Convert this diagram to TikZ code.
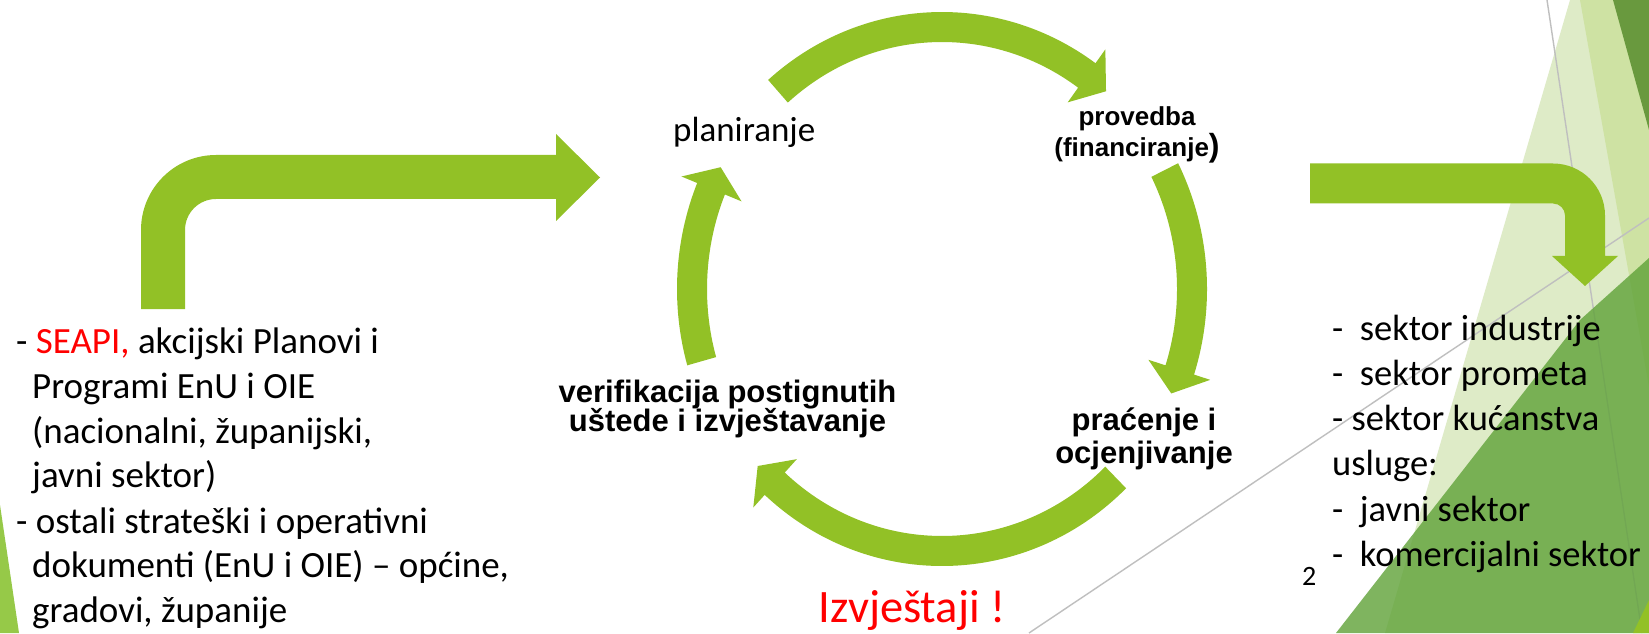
\documentclass[tikz,border=0pt]{standalone}
\usepackage{fontspec}
\setmainfont{Carlito}
\newfontfamily\arialfont{Liberation Sans}
\usetikzlibrary{calc}
\definecolor{arrowgreen}{RGB}{146,193,38}
\definecolor{facetlight}{RGB}{222,235,199}
\definecolor{facetmid}{RGB}{206,226,163}
\definecolor{facetdark}{RGB}{105,153,62}
\definecolor{facetgreen}{RGB}{95,162,56}
\definecolor{facetbright}{RGB}{146,193,38}
\definecolor{wedgegreen}{RGB}{150,201,72}
\definecolor{thinline}{RGB}{191,191,191}
\tikzset{
  bodytext/.style={inner sep=0pt, anchor=base west, font=\fontsize{37}{44}\selectfont},
  righttext/.style={inner sep=0pt, anchor=base west, font=\fontsize{36.5}{44}\selectfont},
  cyclelbl/.style={inner sep=0pt, anchor=base, font=\arialfont\bfseries\fontsize{31}{31}\selectfont},
  smalllbl/.style={inner sep=0pt, anchor=base, font=\arialfont\bfseries\fontsize{26}{26}\selectfont},
  decoline/.style={draw=thinline, line width=1.4pt},
  blockarrow/.style={fill=arrowgreen},
}
\newcommand\cyclearrow[3]{%
  \fill[blockarrow] ($(C)+(#1:265 and 277)$)
    arc[start angle=#1, end angle=#2, x radius=265, y radius=277]
    -- ($(C)+(#2:282 and 294)$) -- ($(C)+(#3:250 and 262)$) -- ($(C)+(#2:217 and 229)$)
    -- ($(C)+(#2:235 and 247)$)
    arc[start angle=#2, end angle=#1, x radius=235, y radius=247] -- cycle;}
\begin{document}
\begin{tikzpicture}[x=1pt,y=1pt]
\useasboundingbox (0,0) rectangle (1649,633);
\fill[white] (0,0) rectangle (1649,633);
% decorative facets (right)
\fill[facetlight] (1570,633) -- (1649,633) -- (1649,0) -- (1385,0) -- cycle;
\fill[facetmid] (1580,633) -- (1649,633) -- (1649,246) -- cycle;
\fill[facetdark] (1613,633) -- (1649,633) -- (1649,503) -- cycle;
\coordinate (g1a) at (1547,633);
\coordinate (g1b) at (1642,0);
\coordinate (g2a) at (1029,0);
\coordinate (g2b) at (1649,415);
\draw[decoline] (g1a) -- (g1b);
\draw[decoline] (g2a) -- (g2b);
\fill[facetgreen, opacity=0.8] (1336,0) -- (1580,313) -- (1649,375) -- (1649,0) -- cycle;
\fill[facetbright] (1633,0) -- (1649,33) -- (1649,0) -- cycle;
% left wedge
\fill[wedgegreen] (0,128) -- (19,0) -- (0,0) -- cycle;
% left bent arrow
\fill[blockarrow] (141,324) -- (141,403) arc[start angle=180, end angle=90, radius=75]
  -- (556,478) -- (556,499) -- (600,455.5) -- (556,412) -- (556,434) -- (216,434)
  arc[start angle=90, end angle=180, radius=31] -- (185,324) -- cycle;
% right bent arrow
\fill[blockarrow] (1310,469.5) -- (1553,469.5) arc[start angle=90, end angle=0, radius=52]
  -- (1605,377) -- (1618,377) -- (1585,347) -- (1552,377) -- (1565,377) -- (1565,417.5)
  arc[start angle=0, end angle=90, radius=12] -- (1310,429.5) -- cycle;
% cycle
\coordinate (C) at (942,344);
\cyclearrow{131}{54.6}{49}
\cyclearrow{27}{-18}{-23.5}
\cyclearrow{-46}{-132}{-137.5}
\cyclearrow{196}{157.5}{152.3}
% cycle labels
\node[inner sep=0pt, anchor=base west, font=\fontsize{35}{35}\selectfont] (plan) at (673,491.3) {planiranje};
\node[smalllbl] (prov1) at (1137,507) {provedba};
\node[smalllbl] (prov2) at (1137,476) {(financiranje{\fontsize{32}{32}\selectfont)}};
\node[cyclelbl] (prac1) at (1144,203) {praćenje i};
\node[cyclelbl] (prac2) at (1144,170) {ocjenjivanje};
\node[cyclelbl] (ver1) at (727.5,230.3) {verifikacija postignutih};
\node[cyclelbl] (ver2) at (727.5,201.3) {uštede i izvještavanje};
\node[inner sep=0pt, anchor=base, text=red, font=\fontsize{46.5}{46.5}\selectfont] (izv) at (912,11) {Izvještaji !};
% left text
\node[bodytext] (L1) at (16,280) {- \textcolor{red}{SEAPI,} akcijski Planovi i};
\node[bodytext] (L2) at (32,235) {Programi EnU i OIE};
\node[bodytext] (L3) at (32,190) {(nacionalni, županijski,};
\node[bodytext] (L4) at (32,145.5) {javni sektor)};
\node[bodytext] (L5) at (16,100) {- ostali strateški i operativni};
\node[bodytext] (L6) at (32,55.4) {dokumenti (EnU i OIE) – općine,};
\node[bodytext] (L7) at (32,11) {gradovi, županije};
% right text
\node[righttext] (R1) at (1332,292.3) {-\ \ sektor industrije};
\node[righttext] (R2) at (1332,248) {-\ \ sektor prometa};
\node[righttext] (R3) at (1332,203) {- sektor kućanstva};
\node[righttext] (R4) at (1332,158) {usluge:};
\node[righttext] (R5) at (1332,111.3) {-\ \ javni sektor};
\node[righttext] (R6) at (1332,66.3) {-\ \ komercijalni sektor};
\node[inner sep=0pt, anchor=base west, font=\fontsize{28}{28}\selectfont] (pg) at (1302,48) {2};
\end{tikzpicture}
\end{document}
